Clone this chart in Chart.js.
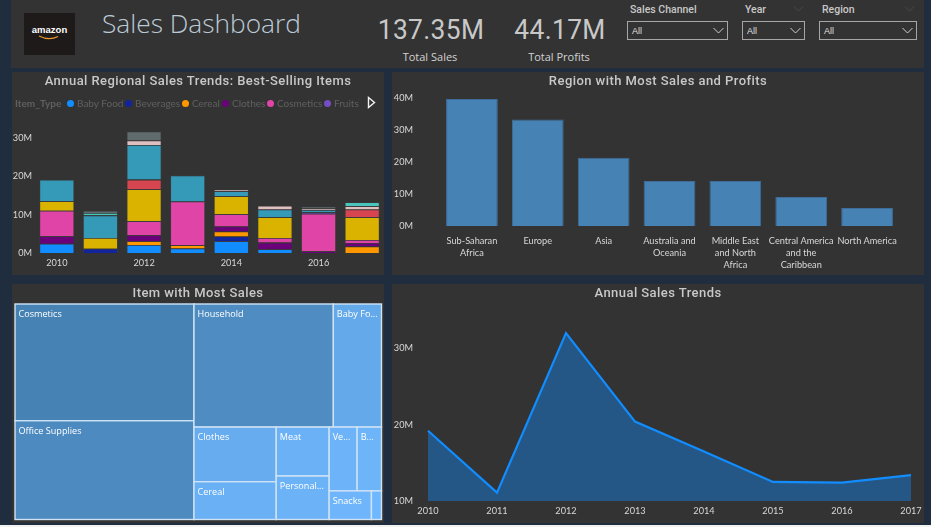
<!DOCTYPE html>
<html>
<head>
<meta charset="utf-8">
<title>Sales Dashboard</title>
<script src="https://cdn.jsdelivr.net/npm/chart.js@4"></script>
<style>
  html, body { margin: 0; padding: 0; }
  body { width: 931px; height: 527px; overflow: hidden; position: relative; background: #202d3f; font-family: "Open Sans", sans-serif; }
  .panel { position: absolute; background: #333333; }
  .abs { position: absolute; white-space: nowrap; }
  .title { position: absolute; text-align: center; font: 500 13px Roboto, sans-serif; letter-spacing: 0.44px; color: #c8c8c8; white-space: nowrap; }
  .kpi { position: absolute; width: 160px; top: 13px; text-align: center; font: 400 28px Roboto, sans-serif; letter-spacing: .4px; color: #c8c8c8; transform: scaleX(.94); }
  canvas { position: absolute; left: 0; top: 0; }
  .box { position: absolute; top: 21px; height: 17px; border: 1px solid #a6a6a6; color: #e0e0e0; font: 9px/18px "Liberation Sans", sans-serif; padding-left: 4px; }
  .box svg { position: absolute; right: 3px; top: 5px; }
  .lab { position: absolute; top: 3px; font: 500 10.5px Roboto, sans-serif; color: #c8c8c8; }
  .faint { position: absolute; top: 6px; }
  #legend { position: absolute; left: 3px; top: 24px; height: 14px; font: 10px/14px Lato, sans-serif; color: #606060; white-space: nowrap; }
  #legend b { position: absolute; font-weight: 700; }
  #legend i { position: absolute; width: 7px; height: 7px; border-radius: 50%; top: 3.5px; }
  #legend span { position: absolute; }
</style>
</head>
<body>
<div class="panel" style="left:11px;top:0;width:913px;height:68px"></div>
<div class="abs" style="left:24px;top:13px;width:51px;height:42px;background:#1e1a1a"></div>
<div class="abs" style="left:24px;top:24px;width:51px;text-align:center;color:#fff;font:600 9.5px 'Liberation Sans',sans-serif">amazon</div>
<svg class="abs" style="left:38px;top:35px" width="24" height="6"><path d="M1 1 Q11 6 20 1.5" fill="none" stroke="#e89a2c" stroke-width="1.2"/></svg>
<div class="abs" style="left:102px;top:5px;font:300 26.3px 'Open Sans',sans-serif;color:#bccad6">Sales Dashboard</div>
<div class="kpi" style="left:351px">137.35M</div>
<div class="abs" style="left:350px;width:160px;top:49px;text-align:center;font:11px 'Open Sans',sans-serif;color:#d2d2d2">Total Sales</div>
<div class="kpi" style="left:480px">44.17M</div>
<div class="abs" style="left:479px;width:160px;top:49px;text-align:center;font:11px 'Open Sans',sans-serif;color:#d2d2d2">Total Profits</div>

<div class="lab" style="left:630px">Sales Channel</div>
<div class="lab" style="left:745px">Year</div>
<div class="lab" style="left:822px">Region</div>
<svg class="faint" style="left:793px" width="11" height="6"><path d="M1 0.5 L5.5 5 L10 0.5" fill="none" stroke="#4a4a4a"/></svg>
<svg class="faint" style="left:904px" width="11" height="6"><path d="M1 0.5 L5.5 5 L10 0.5" fill="none" stroke="#4a4a4a"/></svg>
<div class="box" style="left:627px;width:95px">All<svg width="11" height="7"><path d="M0.5 1 L5.5 6 L10.5 1" fill="none" stroke="#cfcfcf"/></svg></div>
<div class="box" style="left:742px;width:57px">All<svg width="11" height="7"><path d="M0.5 1 L5.5 6 L10.5 1" fill="none" stroke="#cfcfcf"/></svg></div>
<div class="box" style="left:819px;width:92px">All<svg width="11" height="7"><path d="M0.5 1 L5.5 6 L10.5 1" fill="none" stroke="#cfcfcf"/></svg></div>

<div class="panel" style="left:12px;top:72px;width:372px;height:203px">
  <canvas id="stackChart" width="372" height="203"></canvas>
  <div class="title" style="left:0;width:372px;top:1px">Annual Regional Sales Trends: Best-Selling Items</div>
  <div id="legend"></div>
  <svg class="abs" style="left:355px;top:24px" width="9" height="13"><path d="M1.5 1.5 L7.5 6.5 L1.5 11.5 Z" fill="none" stroke="#f2f2f2" stroke-width="1.4"/></svg>
</div>
<div class="panel" style="left:392px;top:72px;width:532px;height:203px">
  <canvas id="regionChart" width="532" height="203"></canvas>
  <div class="title" style="left:0;width:532px;top:1px">Region with Most Sales and Profits</div>
</div>
<div class="panel" style="left:12px;top:284px;width:372px;height:239px">
  <canvas id="itemChart" width="372" height="239"></canvas>
  <div class="title" style="left:0;width:372px;top:1px">Item with Most Sales</div>
</div>
<div class="panel" style="left:392px;top:284px;width:532px;height:239px">
  <canvas id="trendChart" width="532" height="239"></canvas>
  <div class="title" style="left:0;width:532px;top:1px">Annual Sales Trends</div>
</div>
<div class="abs" style="left:0;top:525px;width:931px;height:2px;background:#f2f2f2"></div>

<script>
const years = ["2010", "2011", "2012", "2013", "2014", "2015", "2016", "2017"];

// stacked sales per item, millions
const babyFood = [2.4, 0, 2.1, 1.2, 3.1, 1.0, 0, 0];
const beverages = [0, 1.1, 0, 0, 1.2, 0, 0, 0];
const cereal = [0, 0, 1.0, 0.8, 1.3, 0, 0, 1.7];
const clothes = [2.0, 0, 1.5, 0, 1.3, 1.7, 0.5, 0.9];
const cosmetics = [6.6, 0, 3.7, 11.4, 3.2, 1.2, 9.7, 0.8];
const fruits = [0, 0, 0, 0, 0, 0, 0.4, 0];
const household = [2.5, 2.8, 8.3, 0, 4.7, 5.4, 0, 5.9];
const meat = [0, 0, 2.5, 0, 0, 0, 0, 2.0];
const officeSupplies = [5.6, 5.9, 9.0, 6.8, 1.3, 2.0, 0.6, 0];
const personalCare = [0, 0, 1.2, 0, 0.4, 1.0, 0.4, 0.9];
const snacks = [0, 0.6, 0, 0, 0, 0, 0, 1.0];
const vegetables = [0, 0.6, 2.3, 0, 0, 0, 0.5, 0];

const itemNames = ["Baby Food", "Beverages", "Cereal", "Clothes", "Cosmetics", "Fruits", "Household", "Meat", "Office Supplies", "Personal Care", "Snacks", "Vegetables"];
const itemColors = ["#118dff", "#12239e", "#ff9800", "#6b007b", "#e044a7", "#744ec2", "#d9b300", "#d64550", "#3599b8", "#dfbfbf", "#4ac5bb", "#5f6b6d"];
const itemSeries = [babyFood, beverages, cereal, clothes, cosmetics, fruits, household, meat, officeSupplies, personalCare, snacks, vegetables];
const legendCount = 6;
const stackTicks = [0, 10, 20, 30];

const regions = [["Sub-Saharan", "Africa"], "Europe", "Asia", ["Australia and", "Oceania"], ["Middle East", "and North", "Africa"], ["Central America", "and the", "Caribbean"], "North America"];
const regionSales = [39.7, 33.3, 21.3, 14.1, 14.05, 9.1, 5.6];
const regionTicks = [0, 10, 20, 30, 40];

const annualSales = [19.2, 11.1, 32.0, 20.4, 16.5, 12.5, 12.4, 13.4];
const trendTicks = [10, 20, 30];

const treeItems = ["Cosmetics", "Office Supplies", "Household", "Baby Food", "Clothes", "Cereal", "Meat", "Personal Care", "Vegetables", "Beverages", "Snacks", "Fruits"];
const treeSales = [36.3, 30.7, 29.8, 10.3, 7.8, 5.4, 4.5, 4.0, 3.1, 2.7, 2.1, 0.5];
// how the tree is split up: "h" side by side, "v" on top of each other
const treeSplit = ["h", ["v", 0, 1], ["v", ["h", 2, 3], ["h", ["v", 4, 5], ["v", 6, 7], ["v", ["h", 8, 9], ["h", 10, 11]]]]];

const tickFont = { family: "Lato, sans-serif", size: 9.2, lineHeight: 1.3 };
const tickColor = "#d8d8d8";
const noGrid = { display: false, drawTicks: false };
const millions = (v) => v + "M";

// fixes the plot area so it lines up with the panel
const fixWidth = (w) => (scale) => { scale.width = w; scale.paddingTop = 0; scale.paddingBottom = 0; };
const fixHeight = (h) => (scale) => { scale.height = h; scale.paddingLeft = 0; scale.paddingRight = 0; };
const useTicks = (values) => (scale) => { scale.ticks = values.map((value) => ({ value })); };

const legendRoot = document.getElementById("legend");
const legendX = [56, 114, 171, 211, 256, 313];
legendRoot.innerHTML = "<b style='left:0'>Item_Type</b>";
for (let i = 0; i < legendCount; i++) {
  legendRoot.innerHTML += "<i style='left:" + (legendX[i] - 4) + "px;background:" + itemColors[i] + "'></i>" +
    "<span style='left:" + (legendX[i] + 6) + "px'>" + itemNames[i] + "</span>";
}

new Chart(document.getElementById("stackChart"), {
  type: "bar",
  data: {
    labels: years,
    datasets: itemSeries.map((values, i) => ({
      label: itemNames[i],
      data: values,
      backgroundColor: itemColors[i],
      borderColor: "rgba(70,70,70,0.5)",
      borderWidth: 0.8,
      categoryPercentage: 0.8,
      barPercentage: 1,
    })),
  },
  options: {
    responsive: false,
    animation: false,
    layout: { padding: { top: 58, right: 0, bottom: 0, left: 0 } },
    plugins: { legend: { display: false }, tooltip: { enabled: false } },
    scales: {
      x: {
        stacked: true,
        grid: noGrid,
        border: { display: false },
        afterFit: fixHeight(22),
        ticks: { color: tickColor, font: tickFont, autoSkip: false, maxRotation: 0, padding: 4,
          callback: function (v, i) { return i % 2 === 0 ? years[i] : ""; } },
      },
      y: {
        stacked: true,
        min: 0,
        max: 32,
        afterFit: fixWidth(23),
        afterBuildTicks: useTicks(stackTicks),
        grid: noGrid,
        border: { display: false },
        ticks: { color: tickColor, font: tickFont, callback: millions, padding: 3 },
      },
    },
  },
});

new Chart(document.getElementById("regionChart"), {
  type: "bar",
  data: {
    labels: regions,
    datasets: [{ label: "Sales", data: regionSales, backgroundColor: "#4682b4", borderColor: "#3f6d99", borderWidth: 1, categoryPercentage: 0.786, barPercentage: 1 }],
  },
  options: {
    responsive: false,
    animation: false,
    layout: { padding: { top: 26, right: 24, bottom: 0, left: 0 } },
    plugins: { legend: { display: false }, tooltip: { enabled: false } },
    scales: {
      x: {
        grid: noGrid,
        border: { display: false },
        afterFit: fixHeight(49),
        ticks: { color: tickColor, font: tickFont, autoSkip: false, maxRotation: 0, padding: 9 },
      },
      y: {
        min: 0,
        max: 40,
        afterFit: fixWidth(47),
        afterBuildTicks: useTicks(regionTicks),
        grid: noGrid,
        border: { display: false },
        ticks: { color: tickColor, font: tickFont, callback: millions, padding: 26 },
      },
    },
  },
});

// cuts the treemap up by value, result is in 0..1 on both axes
function layoutTree(node, x0, y0, x1, y1, out) {
  if (typeof node === "number") {
    out.push({ i: node, x0, y0, x1, y1 });
    return;
  }
  const kids = node.slice(1);
  const total = kids.reduce((s, k) => s + treeSum(k), 0);
  let pos = 0;
  kids.forEach((k) => {
    const a = pos / total;
    pos += treeSum(k);
    const b = pos / total;
    if (node[0] === "h") layoutTree(k, x0 + (x1 - x0) * a, y0, x0 + (x1 - x0) * b, y1, out);
    else layoutTree(k, x0, y0 + (y1 - y0) * a, x1, y0 + (y1 - y0) * b, out);
  });
}
function treeSum(node) {
  if (typeof node === "number") return treeSales[node];
  return node.slice(1).reduce((s, k) => s + treeSum(k), 0);
}

const treeCells = [];
layoutTree(treeSplit, 0, 0, 1, 1, treeCells);

function treeColor(value) {
  const maxV = Math.max(...treeSales);
  const t = value / maxV;
  const r = Math.round(112 + (70 - 112) * t);
  const g = Math.round(184 + (130 - 184) * t);
  const b = Math.round(255 + (180 - 255) * t);
  return "rgb(" + r + "," + g + "," + b + ")";
}

function fitLabel(ctx, text, room) {
  if (ctx.measureText(text).width <= room) return text;
  for (let n = text.length - 1; n > 0; n--) {
    const cut = text.slice(0, n) + "...";
    if (ctx.measureText(cut).width <= room) return cut;
  }
  return "";
}

const treePlugin = {
  id: "treeCells",
  afterDatasetsDraw(chart) {
    const { ctx, scales } = chart;
    ctx.save();
    ctx.font = "9.1px 'Open Sans', sans-serif";
    ctx.textBaseline = "top";
    treeCells.forEach((c) => {
      const left = scales.x.getPixelForValue(c.x0);
      const right = scales.x.getPixelForValue(c.x1);
      const top = scales.y.getPixelForValue(c.y0);
      const bottom = scales.y.getPixelForValue(c.y1);
      ctx.fillStyle = treeColor(treeSales[c.i]);
      ctx.fillRect(left, top, right - left, bottom - top);
      ctx.strokeStyle = "#cfe3f5";
      ctx.lineWidth = 1.4;
      ctx.strokeRect(left, top, right - left, bottom - top);
      ctx.fillStyle = "#ffffff";
      ctx.fillText(fitLabel(ctx, treeItems[c.i], right - left - 6.5), left + 3.5, top + 6);
    });
    ctx.restore();
  },
};

new Chart(document.getElementById("itemChart"), {
  type: "scatter",
  data: { datasets: [{ label: "Sales", data: treeCells.map((c) => ({ x: c.x0, y: c.y0 })), pointRadius: 0 }] },
  plugins: [treePlugin],
  options: {
    responsive: false,
    animation: false,
    layout: { padding: { top: 20, right: 2.5, bottom: 3.5, left: 3 } },
    plugins: { legend: { display: false }, tooltip: { enabled: false } },
    scales: {
      x: { display: false, min: 0, max: 1 },
      y: { display: false, min: 0, max: 1, reverse: true },
    },
  },
});

new Chart(document.getElementById("trendChart"), {
  type: "line",
  data: {
    labels: years,
    datasets: [{
      label: "Sales",
      data: annualSales,
      borderColor: "#118dff",
      borderWidth: 2.2,
      backgroundColor: "#255786",
      fill: "start",
      tension: 0,
      pointRadius: 0,
    }],
  },
  options: {
    responsive: false,
    animation: false,
    layout: { padding: { top: 30, right: 13, bottom: 0, left: 0 } },
    plugins: { legend: { display: false }, tooltip: { enabled: false } },
    scales: {
      x: {
        grid: noGrid,
        border: { display: false },
        afterFit: fixHeight(22),
        ticks: { color: tickColor, font: tickFont, autoSkip: false, maxRotation: 0, padding: 4 },
      },
      y: {
        min: 10,
        max: 34.5,
        afterFit: fixWidth(36),
        afterBuildTicks: useTicks(trendTicks),
        grid: noGrid,
        border: { display: false },
        ticks: { color: tickColor, font: tickFont, callback: millions, padding: 15 },
      },
    },
  },
});
</script>
</body>
</html>
